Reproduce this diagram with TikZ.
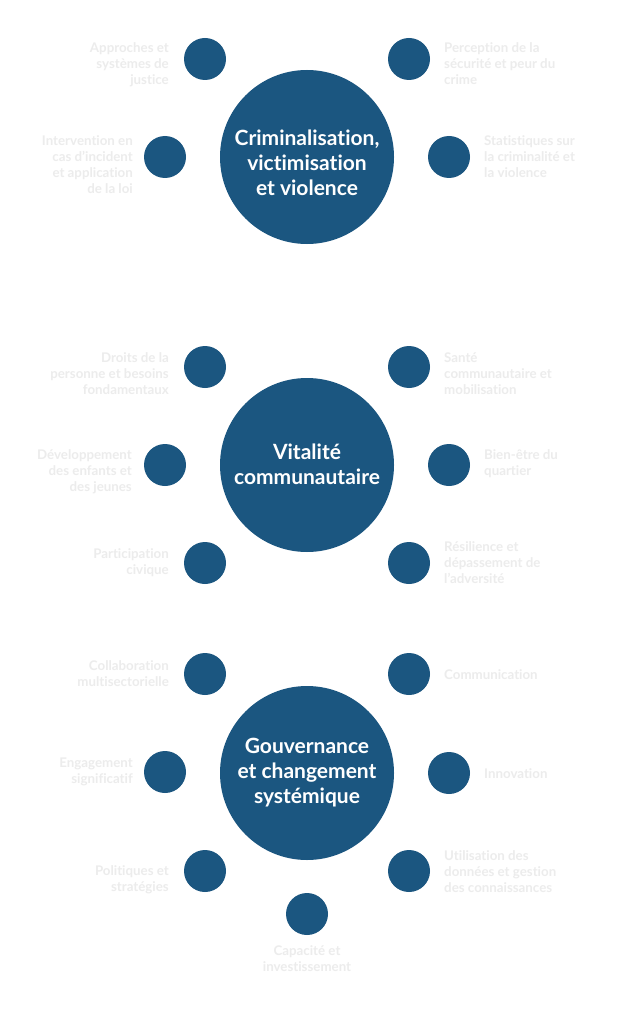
\documentclass[tikz,border=0pt]{standalone}
\usepackage{fontspec}
\setmainfont{Lato}[Ligatures={NoCommon}]
\definecolor{navy}{RGB}{27,86,128}
\definecolor{pale}{RGB}{236,236,236}
\newcommand\lst{\rule{0pt}{11pt}}
\newcommand\cst{\rule{0pt}{17pt}}
\tikzset{
  big/.style={circle,fill=navy,minimum size=174pt,inner sep=0pt},
  small/.style={circle,fill=navy,minimum size=42pt,inner sep=0pt},
  ctext/.style={anchor=north,inner sep=0pt,align=center,text=white,font=\bfseries\fontsize{21}{25}\selectfont},
  lab/.style={inner sep=0pt,text=pale,font=\bfseries\fontsize{13.3}{16}\selectfont},
  labL/.style={lab,anchor=north east,align=right},
  labR/.style={lab,anchor=north west,align=left},
  labC/.style={lab,anchor=north,align=center}
}
\begin{document}
\begin{tikzpicture}[x=1pt,y=-1pt]
\fill[white] (0,0) rectangle (620,1024);
\useasboundingbox (0,0) rectangle (620,1024);
% Section 1
\node[big] (c1) at (307,157) {};
\node[ctext] (t1) at (307,128.3) {\cst Criminalisation,\\victimisation\\et violence};
\node[small] (a1) at (205,59) {};
\node[small] (a2) at (409,59) {};
\node[small] (a3) at (165,157) {};
\node[small] (a4) at (449,157) {};
\node[labL] (la1) at (169,41.3) {\lst Approches et\\systèmes de\\justice};
\node[labR] (la2) at (444,41.3) {\lst Perception de la\\sécurité et peur du\\crime};
\node[labL] (la3) at (133,134.3) {\lst Intervention en\\cas d’incident\\et application\\de la loi};
\node[labR] (la4) at (484,134.3) {\lst Statistiques sur\\la criminalité et\\la violence};
% Section 2
\node[big] (c2) at (307,465) {};
\node[ctext] (t2) at (307,442.3) {\cst Vitalité\\communautaire};
\node[small] (b1) at (205,367) {};
\node[small] (b2) at (409,367) {};
\node[small] (b3) at (165,465) {};
\node[small] (b4) at (449,465) {};
\node[small] (b5) at (205,563) {};
\node[small] (b6) at (409,563) {};
\node[labL] (lb1) at (169,351.3) {\lst Droits de la\\personne et besoins\\fondamentaux};
\node[labR] (lb2) at (444,351.3) {\lst Santé\\communautaire et\\mobilisation};
\node[labL] (lb3) at (132,448.3) {\lst Développement\\des enfants et\\des jeunes};
\node[labR] (lb4) at (484,448.3) {\lst Bien-être du\\quartier};
\node[labL] (lb5) at (169,547.3) {\lst Participation\\civique};
\node[labR] (lb6) at (444,540.3) {\lst Résilience et\\dépassement de\\l’adversité};
% Section 3
\node[big] (c3) at (307,773) {};
\node[ctext] (t3) at (307,736.3) {\cst Gouvernance\\et changement\\systémique};
\node[small] (d1) at (205,674) {};
\node[small] (d2) at (409,674) {};
\node[small] (d3) at (165,772) {};
\node[small] (d4) at (449,773) {};
\node[small] (d5) at (205,871) {};
\node[small] (d6) at (409,871) {};
\node[small] (d7) at (307,914) {};
\node[labL] (ld1) at (169,659.3) {\lst Collaboration\\multisectorielle};
\node[labR] (ld2) at (444,668.3) {\lst Communication};
\node[labL] (ld3) at (133,756.3) {\lst Engagement\\significatif};
\node[labR] (ld4) at (484,767.3) {\lst Innovation};
\node[labL] (ld5) at (169,864.3) {\lst Politiques et\\stratégies};
\node[labR] (ld6) at (444,849.3) {\lst Utilisation des\\données et gestion\\des connaissances};
\node[labC] (ld7) at (307,944.3) {\lst Capacité et\\investissement};
\end{tikzpicture}
\end{document}
